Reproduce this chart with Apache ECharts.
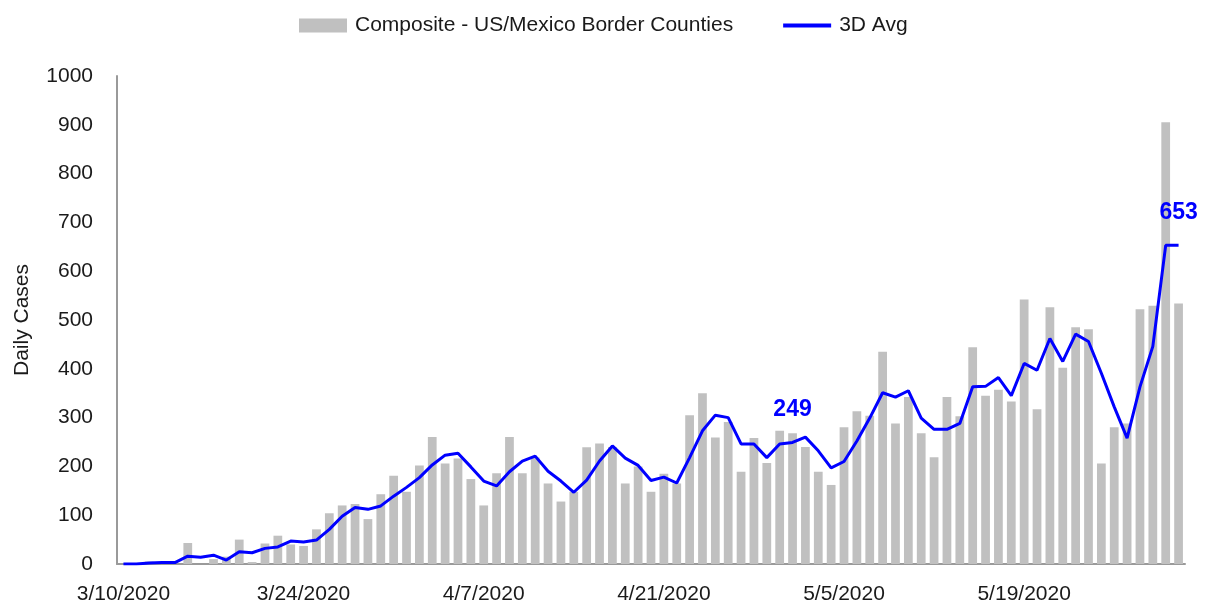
<!DOCTYPE html>
<html>
<head>
<meta charset="utf-8">
<script src="https://cdn.jsdelivr.net/npm/echarts@6/dist/echarts.min.js"></script>
<style>
  html, body { margin: 0; padding: 0; background: #fff; }
  #chart { width: 1208px; height: 607px; }
</style>
</head>
<body>
<div id="chart"></div>
<script>
// dates 3/10/2020 - 5/31/2020
const dates = [
  '3/10/2020','3/11/2020','3/12/2020','3/13/2020','3/14/2020','3/15/2020','3/16/2020','3/17/2020','3/18/2020','3/19/2020',
  '3/20/2020','3/21/2020','3/22/2020','3/23/2020','3/24/2020','3/25/2020','3/26/2020','3/27/2020','3/28/2020','3/29/2020',
  '3/30/2020','3/31/2020','4/1/2020','4/2/2020','4/3/2020','4/4/2020','4/5/2020','4/6/2020','4/7/2020','4/8/2020',
  '4/9/2020','4/10/2020','4/11/2020','4/12/2020','4/13/2020','4/14/2020','4/15/2020','4/16/2020','4/17/2020','4/18/2020',
  '4/19/2020','4/20/2020','4/21/2020','4/22/2020','4/23/2020','4/24/2020','4/25/2020','4/26/2020','4/27/2020','4/28/2020',
  '4/29/2020','4/30/2020','5/1/2020','5/2/2020','5/3/2020','5/4/2020','5/5/2020','5/6/2020','5/7/2020','5/8/2020',
  '5/9/2020','5/10/2020','5/11/2020','5/12/2020','5/13/2020','5/14/2020','5/15/2020','5/16/2020','5/17/2020','5/18/2020',
  '5/19/2020','5/20/2020','5/21/2020','5/22/2020','5/23/2020','5/24/2020','5/25/2020','5/26/2020','5/27/2020','5/28/2020',
  '5/29/2020','5/30/2020','5/31/2020'
]

// daily cases (bars)
const dailyCases = [
  0,0,5,4,0,43,0,10,15,50,
  4,42,58,40,37,71,104,120,123,92,
  143,181,148,202,260,206,216,174,120,186,
  260,186,218,165,128,148,239,247,240,165,
  200,148,185,165,305,350,259,291,189,258,
  207,273,268,240,189,162,280,313,304,435,
  288,342,268,219,342,303,444,345,357,333,
  542,317,526,402,485,481,206,280,288,522,
  529,905,534
]

// 3 day average (line)
const avg3d = [
  0,0,2,3,3,16,14,18,8,25,
  23,32,35,47,45,49,71,98,116,112,
  119,139,157,177,203,223,227,199,170,160,
  189,211,221,190,170,147,172,211,242,217,
  202,171,178,166,218,273,305,300,246,246,
  218,246,249,260,232,197,210,252,299,351,
  342,355,299,276,276,288,363,364,382,345,
  411,397,462,415,471,456,391,322,258,363,
  446,653,653
]

// points on the avg line that carry a value label
const labelIdx = [52, 82]

const yTicks = { min: 0, max: 1000, interval: 100 }

const font = 'Liberation Sans, Arial, sans-serif'
const txt = '#1a1a1a'
const fs = 21

const myChart = echarts.init(document.getElementById('chart'))

myChart.setOption({
  animation: false,
  textStyle: { fontFamily: font },
  legend: {
    top: 10,
    left: 294,
    itemWidth: 48,
    itemHeight: 14,
    itemGap: 50,
    textStyle: { fontSize: fs, color: txt, fontFamily: font, padding: [0, 0, 0, 3] },
    data: [
      { name: 'Composite - US/Mexico Border Counties', icon: 'rect' },
      { name: '3D Avg', icon: 'path://M0 0H50V4H0Z' }
    ]
  },
  grid: { left: 117, right: 23, top: 76, bottom: 43, containLabel: false, outerBoundsMode: 'none' },
  xAxis: {
    type: 'category',
    data: dates,
    boundaryGap: true,
    axisLine: { lineStyle: { color: '#9a9a9a', width: 2 } },
    axisTick: { show: false },
    axisLabel: {
      interval: 13,
      margin: 20,
      fontSize: fs,
      color: txt,
      fontFamily: font
    }
  },
  yAxis: {
    type: 'value',
    min: yTicks.min,
    max: yTicks.max,
    interval: yTicks.interval,
    name: 'Daily Cases',
    nameLocation: 'middle',
    nameGap: 84,
    nameTextStyle: { fontSize: fs, color: txt, fontFamily: font },
    axisLine: { show: true, lineStyle: { color: '#9a9a9a', width: 2 } },
    axisTick: { show: false },
    splitLine: { show: false },
    axisLabel: {
      margin: 24,
      fontSize: fs,
      color: txt,
      fontFamily: font,
      formatter: v => String(v)
    }
  },
  series: [
    {
      name: 'Composite - US/Mexico Border Counties',
      type: 'bar',
      data: dailyCases,
      barCategoryGap: '32%',
      itemStyle: { color: '#c0c0c0' }
    },
    {
      name: '3D Avg',
      type: 'line',
      data: avg3d,
      symbol: 'none',
      lineStyle: { color: '#0000ff', width: 3 },
      itemStyle: { color: '#0000ff' },
      markPoint: {
        symbol: 'circle',
        symbolSize: 1,
        itemStyle: { color: 'rgba(0,0,0,0)' },
        label: {
          show: true,
          position: 'top',
          distance: 21,
          fontSize: 23,
          fontWeight: 'bold',
          color: '#0000ff',
          fontFamily: font,
          formatter: p => p.value
        },
        data: labelIdx.map(i => ({ coord: [dates[i], avg3d[i]], value: avg3d[i] }))
      }
    }
  ]
})
</script>
</body>
</html>
